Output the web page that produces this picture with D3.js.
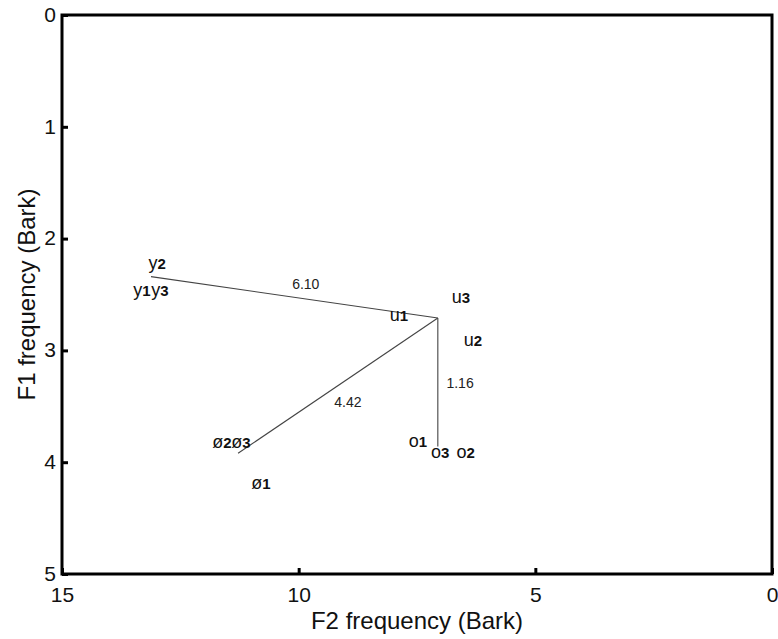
<!DOCTYPE html>
<html>
<head>
<meta charset="utf-8">
<script src="https://cdn.jsdelivr.net/npm/d3@7"></script>
<style>
  body { margin: 0; background: #fff; }
  text { font-family: "Liberation Sans", Arial, sans-serif; }
</style>
</head>
<body>
<svg id="chart" width="778" height="639"></svg>
<script>
// vowel token labels, placed in (F2, F1) Bark space
const vowelLetters = ["y", "y", "y", "u", "u", "u", "ø", "ø", "ø", "o", "o", "o"];
const vowelIndex = ["1", "2", "3", "1", "2", "3", "1", "2", "3", "1", "2", "3"];
const vowelF2 = [13.31, 12.99, 12.93, 7.88, 6.32, 6.57, 10.80, 11.62, 11.22, 7.48, 6.47, 7.01];
const vowelF1 = [2.46, 2.22, 2.46, 2.69, 2.91, 2.53, 4.19, 3.82, 3.82, 3.81, 3.91, 3.91];

// distance arms from the /u/ hub
const hubF2 = 7.06;
const hubF1 = 2.71;
const armEndF2 = [13.12, 11.28, 7.06];
const armEndF1 = [2.34, 3.92, 3.86];
const armDist = ["6.10", "4.42", "1.16"];
const armLabelF2 = [9.85, 8.96, 6.59];
const armLabelF1 = [2.41, 3.46, 3.29];

const xTicks = [15, 10, 5, 0];
const yTicks = [0, 1, 2, 3, 4, 5];

const svg = d3.select("#chart");
const margin = { top: 15, right: 6, bottom: 65, left: 62 };
const width = +svg.attr("width") - margin.left - margin.right;
const height = +svg.attr("height") - margin.top - margin.bottom;

const x = d3.scaleLinear().domain([15, 0]).range([0, width]);
const y = d3.scaleLinear().domain([0, 5]).range([0, height]);

const g = svg.append("g")
    .attr("transform", `translate(${margin.left},${margin.top})`);

// arms
const arms = armEndF2.map((f2, i) => ({ f2, f1: armEndF1[i], dist: armDist[i], lf2: armLabelF2[i], lf1: armLabelF1[i] }));

g.selectAll("line.arm")
    .data(arms)
    .join("line")
    .attr("class", "arm")
    .attr("x1", x(hubF2))
    .attr("y1", y(hubF1))
    .attr("x2", d => x(d.f2))
    .attr("y2", d => y(d.f1))
    .attr("stroke", "#444")
    .attr("stroke-width", 1.1);

g.selectAll("text.dist")
    .data(arms)
    .join("text")
    .attr("class", "dist")
    .attr("x", d => x(d.lf2))
    .attr("y", d => y(d.lf1))
    .attr("dy", "0.35em")
    .attr("text-anchor", "middle")
    .attr("font-size", 14)
    .attr("fill", "#222")
    .text(d => d.dist);

// vowel labels
const vowels = vowelLetters.map((v, i) => ({ v, n: vowelIndex[i], f2: vowelF2[i], f1: vowelF1[i] }));

const vt = g.selectAll("text.vowel")
    .data(vowels)
    .join("text")
    .attr("class", "vowel")
    .attr("x", d => x(d.f2))
    .attr("y", d => y(d.f1))
    .attr("dy", "0.35em")
    .attr("text-anchor", "middle")
    .attr("fill", "#111");

vt.append("tspan")
    .attr("font-size", 18)
    .text(d => d.v);
vt.append("tspan")
    .attr("font-size", 15)
    .attr("font-weight", "bold")
    .text(d => d.n);

// axes
const xAxis = g.append("g")
    .attr("transform", `translate(0,${height})`)
    .call(d3.axisBottom(x).tickValues(xTicks).tickSize(-6).tickPadding(13).tickFormat(d3.format("d")));
const yAxis = g.append("g")
    .call(d3.axisLeft(y).tickValues(yTicks).tickSize(-6).tickPadding(6).tickFormat(d3.format("d")));

[xAxis, yAxis].forEach(a => {
    a.select(".domain").remove();
    a.selectAll(".tick line").attr("stroke", "#000").attr("stroke-width", 3);
    a.selectAll(".tick text")
        .attr("font-size", 21)
        .attr("font-family", "Liberation Sans, Arial, sans-serif")
        .attr("fill", "#111");
});
yAxis.selectAll(".tick text").attr("dy", "0.3em");

// frame
g.append("rect")
    .attr("x", 0)
    .attr("y", 0)
    .attr("width", width)
    .attr("height", height)
    .attr("fill", "none")
    .attr("stroke", "#000")
    .attr("stroke-width", 3);

// axis titles
svg.append("text")
    .attr("x", margin.left + width / 2)
    .attr("y", 629)
    .attr("text-anchor", "middle")
    .attr("font-size", 24)
    .attr("fill", "#111")
    .text("F2 frequency (Bark)");

svg.append("text")
    .attr("transform", `translate(35,${margin.top + height / 2}) rotate(-90)`)
    .attr("text-anchor", "middle")
    .attr("font-size", 24)
    .attr("fill", "#111")
    .text("F1 frequency (Bark)");
</script>
</body>
</html>
